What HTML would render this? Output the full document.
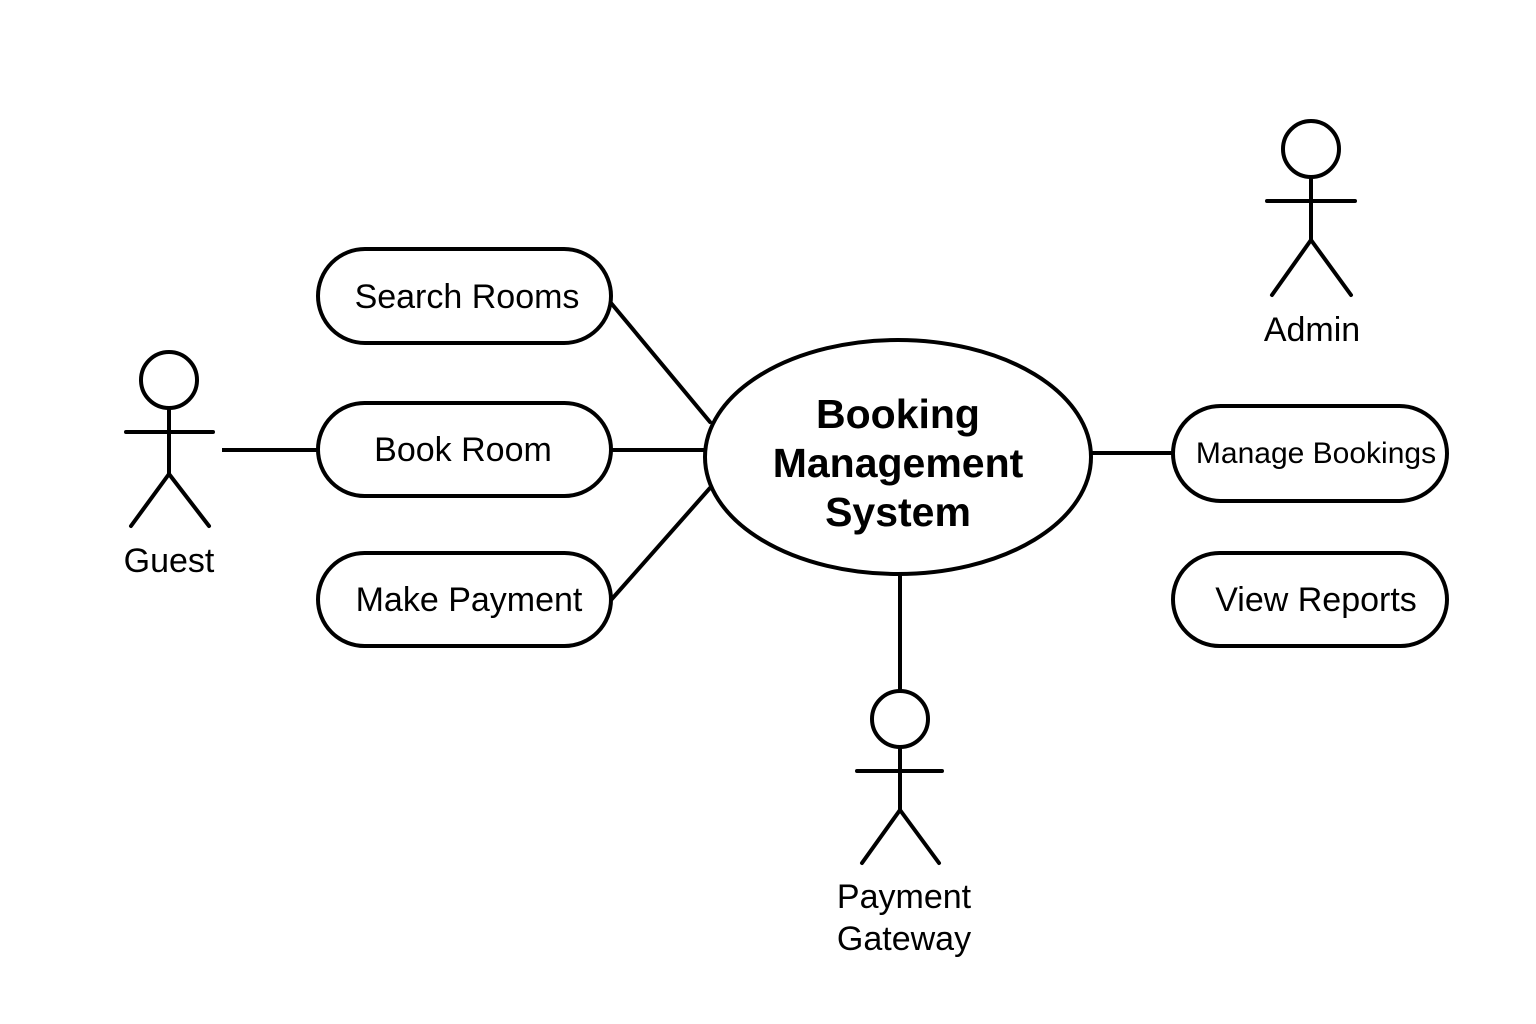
<!DOCTYPE html>
<html><head><meta charset="utf-8"><style>
html,body{margin:0;padding:0;background:#fff;}
svg{display:block;}
text{font-family:"Liberation Sans",sans-serif;fill:#000;}
</style></head><body>
<svg width="1536" height="1024" viewBox="0 0 1536 1024" xmlns="http://www.w3.org/2000/svg">
<rect width="1536" height="1024" fill="#fff"/>
<g stroke="#000" stroke-width="4" fill="none" stroke-linecap="round">
  <circle cx="169" cy="380" r="28"/>
  <line x1="126" y1="432" x2="213" y2="432"/>
  <line x1="169" y1="408" x2="169" y2="474"/>
  <line x1="169" y1="474" x2="131" y2="526"/>
  <line x1="169" y1="474" x2="209" y2="526"/>
  <circle cx="1311" cy="149" r="28"/>
  <line x1="1267" y1="201" x2="1355" y2="201"/>
  <line x1="1311" y1="177" x2="1311" y2="240"/>
  <line x1="1311" y1="240" x2="1272" y2="295"/>
  <line x1="1311" y1="240" x2="1351" y2="295"/>
  <circle cx="900" cy="719" r="28"/>
  <line x1="857" y1="771" x2="942" y2="771"/>
  <line x1="900" y1="747" x2="900" y2="810"/>
  <line x1="900" y1="810" x2="862" y2="863"/>
  <line x1="900" y1="810" x2="939" y2="863"/>
  <line x1="222" y1="450" x2="318" y2="450" stroke-linecap="butt"/>
  <line x1="611" y1="303" x2="710" y2="422"/>
  <line x1="611" y1="450" x2="705" y2="450"/>
  <line x1="611" y1="600" x2="710" y2="488"/>
  <line x1="1093" y1="453" x2="1173" y2="453"/>
  <line x1="900" y1="575" x2="900" y2="691"/>
  <rect x="318" y="249" width="293" height="94" rx="47"/>
  <rect x="318" y="403" width="293" height="93" rx="46.5"/>
  <rect x="318" y="553" width="293" height="93" rx="46.5"/>
  <rect x="1173" y="406" width="274" height="95" rx="47.5"/>
  <rect x="1173" y="553" width="274" height="93" rx="46.5"/>
  <ellipse cx="898" cy="457" rx="193" ry="117"/>
</g>
<g text-anchor="middle" font-size="34">
  <text x="169" y="572">Guest</text>
  <text x="1312" y="341">Admin</text>
  <text x="904" y="908">Payment</text>
  <text x="904" y="950">Gateway</text>
  <text x="467" y="308">Search Rooms</text>
  <text x="463" y="461">Book Room</text>
  <text x="469" y="611">Make Payment</text>
  <text x="1316" y="611">View Reports</text>
  <text x="1316" y="463" font-size="30">Manage Bookings</text>
  <g font-weight="bold" font-size="41">
    <text x="898" y="428">Booking</text>
    <text x="898" y="477">Management</text>
    <text x="898" y="526">System</text>
  </g>
</g>
</svg>
</body></html>
